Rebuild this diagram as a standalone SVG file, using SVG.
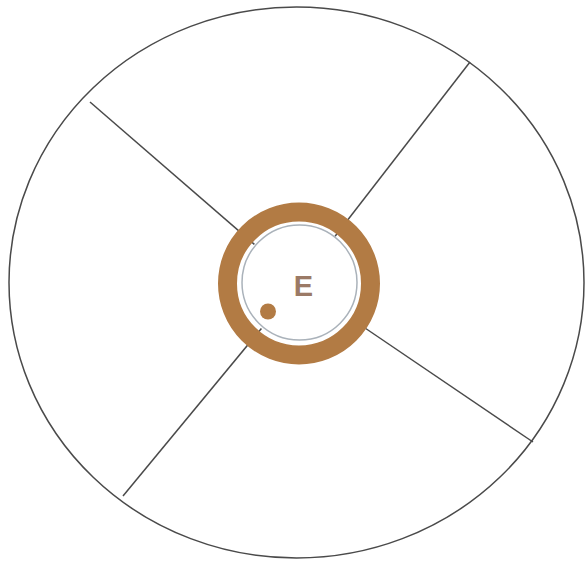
<svg xmlns="http://www.w3.org/2000/svg" width="586" height="563" viewBox="0 0 586 563">
<style>
.ln{stroke:#4a4a4a;stroke-width:1.5;fill:none}
</style>
<rect width="586" height="563" fill="#ffffff"/>
<g id="outer">
<ellipse cx="296.5" cy="282.5" rx="287.5" ry="275.5" class="ln"/>
</g>
<g id="connectors">
<line x1="90" y1="102" x2="254.4" y2="244.4" class="ln"/>
<line x1="470" y1="62" x2="335.1" y2="236.3" class="ln"/>
<line x1="533" y1="442" x2="365" y2="328" class="ln"/>
<line x1="123" y1="496" x2="261.4" y2="328.5" class="ln"/>
</g>
<g id="center">
<circle cx="299" cy="283.5" r="71.5" fill="none" stroke="#b27b44" stroke-width="19"/>
<circle cx="299.5" cy="282.5" r="57.5" fill="none" stroke="#aab2ba" stroke-width="1.5"/>
<text x="303.5" y="295.5" font-family="Liberation Sans, Arial, sans-serif" font-size="29" font-weight="bold" fill="#9b7a66" text-anchor="middle">E</text>
<circle cx="268" cy="311.5" r="8" fill="#b27b44"/>
</g>
</svg>
